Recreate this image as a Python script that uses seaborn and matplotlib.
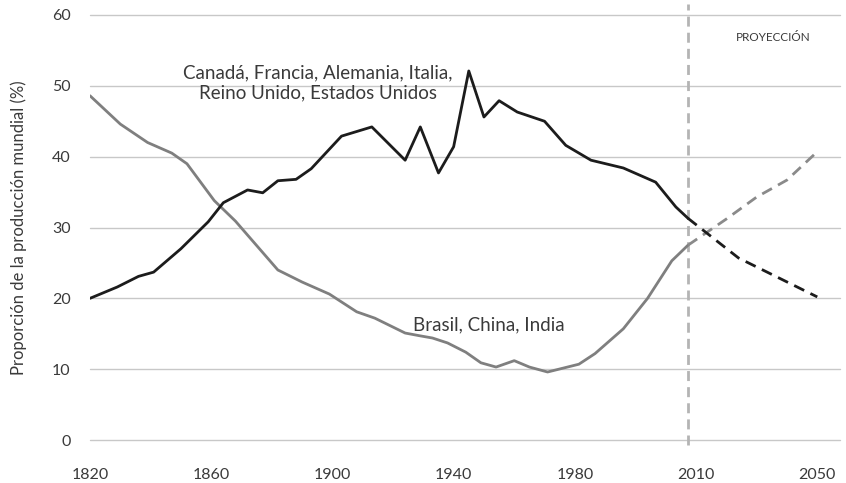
import numpy as np
import pandas as pd
import seaborn as sns
import matplotlib.pyplot as plt

# Historical share of world output (%)
g7_years = [1820, 1829, 1836, 1841, 1850, 1859, 1864, 1872, 1877, 1882, 1888, 1893,
            1903, 1913, 1924, 1929, 1935, 1940, 1945, 1950, 1955, 1961, 1970, 1977,
            1984, 1992, 2000, 2005, 2008]
g7_share = [20.0, 21.6, 23.1, 23.7, 27.0, 30.8, 33.5, 35.3, 34.9, 36.6, 36.8, 38.3,
            42.9, 44.2, 39.5, 44.2, 37.7, 41.4, 52.1, 45.6, 47.9, 46.3, 45.0, 41.6,
            39.5, 38.4, 36.4, 32.9, 31.3]

bci_years = [1820, 1830, 1839, 1847, 1852, 1861, 1868, 1882, 1890, 1899, 1908, 1914,
             1924, 1929, 1933, 1938, 1944, 1949, 1954, 1960, 1965, 1971, 1981, 1985,
             1992, 1998, 2004, 2008]
bci_share = [48.6, 44.6, 42.0, 40.5, 39.0, 33.8, 30.9, 24.0, 22.3, 20.6, 18.1, 17.2,
             15.1, 14.7, 14.4, 13.7, 12.4, 10.9, 10.3, 11.2, 10.3, 9.6, 10.7, 12.2,
             15.7, 20.0, 25.3, 27.5]

# Projections
g7_proj_years = [2008, 2024, 2050]
g7_proj_share = [31.3, 25.7, 20.2]
bci_proj_years = [2008, 2020, 2030, 2040, 2050]
bci_proj_share = [27.5, 31.2, 34.3, 36.7, 40.7]

tick_years = [1820, 1860, 1900, 1940, 1980, 2010, 2050]
split_year = 2008

# the original axis spaces its labelled years evenly
knot_years = np.array([1500] + tick_years + [2250], dtype=float)
knot_pos = np.array([-8, 0, 1, 2, 3, 4, 5, 6, 11], dtype=float)


def fwd(x):
    return np.interp(x, knot_years, knot_pos)


def inv(p):
    return np.interp(p, knot_pos, knot_years)


sns.set_style("white")
plt.rcParams['font.family'] = ['Lato', 'DejaVu Sans']
text_c = '#3a3a3a'

fig = plt.figure(figsize=(8.46, 4.83), dpi=100)
ax = fig.add_axes([90 / 846, 43 / 483, 750 / 846, 425 / 483])
ax.set_xscale('function', functions=(fwd, inv))

hist = pd.DataFrame({'year': g7_years, 'share': g7_share})
hist2 = pd.DataFrame({'year': bci_years, 'share': bci_share})
proj = pd.DataFrame({'year': g7_proj_years, 'share': g7_proj_share})
proj2 = pd.DataFrame({'year': bci_proj_years, 'share': bci_proj_share})

ax.axvline(split_year, ymin=-0.012, ymax=1.025, color='#b4b4b4', lw=2,
           dashes=(3.6, 2.2), clip_on=False, zorder=1)

sns.lineplot(data=hist2, x='year', y='share', ax=ax, color='#7f7f7f', lw=2.0, zorder=3)
sns.lineplot(data=hist, x='year', y='share', ax=ax, color='#1c1c1c', lw=2.0, zorder=4)
sns.lineplot(data=proj2, x='year', y='share', ax=ax, color='#8a8a8a', lw=2.0,
             linestyle=(0, (4, 2.5)), zorder=3)
sns.lineplot(data=proj, x='year', y='share', ax=ax, color='#1c1c1c', lw=2.0,
             linestyle=(0, (4, 2.5)), zorder=4)

ax.set_xlim(1820, 2057.5)
ax.set_ylim(0, 60)
ax.set_xticks(tick_years)
ax.set_xticklabels([str(y) for y in tick_years])
ax.set_yticks(range(0, 61, 10))
ax.minorticks_off()
ax.grid(axis='y', color='#c8c8c8', lw=1)
ax.grid(axis='x', visible=False)
for gl in ax.get_ygridlines():
    gl.set_clip_on(False)
for s in ax.spines.values():
    s.set_visible(False)
ax.tick_params(axis='y', length=0, pad=14, labelsize=11.5, labelcolor=text_c)
ax.tick_params(axis='x', length=0, pad=20, labelsize=11.5, labelcolor=text_c)

ax.set_xlabel('')
ax.set_ylabel('Proporción de la producción mundial (%)', fontsize=12, color=text_c)
ax.yaxis.set_label_coords(-0.084, 0.5)

ax.text(0.304, 0.84, 'Canadá, Francia, Alemania, Italia,\nReino Unido, Estados Unidos',
        transform=ax.transAxes, ha='center', va='center', fontsize=13.5,
        color=text_c, linespacing=1.25)
ax.text(0.532, 0.27, 'Brasil, China, India', transform=ax.transAxes,
        ha='center', va='center', fontsize=13.5, color=text_c)
ax.text(0.911, 0.948, 'PROYECCIÓN', transform=ax.transAxes,
        ha='center', va='center', fontsize=8.5, color=text_c)

fig.savefig('out.png', dpi=100)
